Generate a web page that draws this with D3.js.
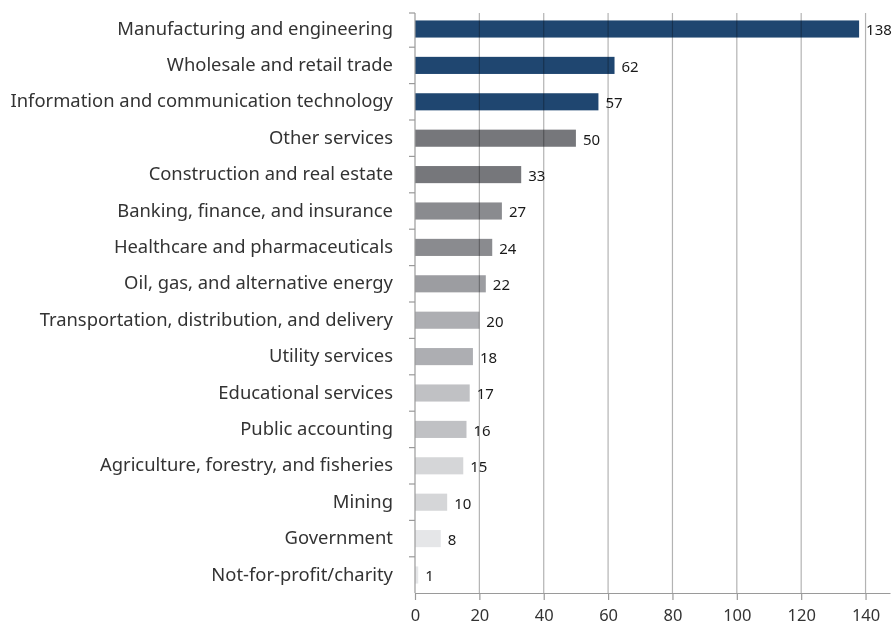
<!DOCTYPE html>
<html>
<head>
<meta charset="utf-8">
<script src="https://cdn.jsdelivr.net/npm/d3@7"></script>
<style>
  html, body { margin: 0; padding: 0; background: #fff; }
  svg { display: block; font-family: "Source Sans Pro", "Noto Sans", "Open Sans", sans-serif; }
</style>
</head>
<body>
<svg id="chart" width="893" height="629"></svg>
<script>
// Industry categories, top to bottom
const categories = [
  "Manufacturing and engineering",
  "Wholesale and retail trade",
  "Information and communication technology",
  "Other services",
  "Construction and real estate",
  "Banking, finance, and insurance",
  "Healthcare and pharmaceuticals",
  "Oil, gas, and alternative energy",
  "Transportation, distribution, and delivery",
  "Utility services",
  "Educational services",
  "Public accounting",
  "Agriculture, forestry, and fisheries",
  "Mining",
  "Government",
  "Not-for-profit/charity"
];
const counts = [138, 62, 57, 50, 33, 27, 24, 22, 20, 18, 17, 16, 15, 10, 8, 1];
const barColors = [
  "#1f4670", "#1f4670", "#1f4670",
  "#76777b", "#76777b",
  "#8a8b8f", "#8a8b8f",
  "#9c9da1",
  "#adaeb2", "#adaeb2",
  "#c0c1c4", "#c0c1c4",
  "#d5d6d8", "#d5d6d8",
  "#e5e6e8", "#e5e6e8"
];
const xTicks = [0, 20, 40, 60, 80, 100, 120, 140];

const svg = d3.select("#chart");
const margin = { top: 13, right: 3, bottom: 36, left: 415 };
const width = 893 - margin.left - margin.right;
const height = 629 - margin.top - margin.bottom;

const g = svg.append("g").attr("transform", `translate(${margin.left},${margin.top})`);

const x = d3.scaleLinear().domain([0, 147.6]).range([0, width]);
const y = d3.scaleBand().domain(categories).range([-2.2, height + 0.2])
  .paddingInner(0.53).paddingOuter(0.265);

// Bars
g.append("g")
  .selectAll("rect")
  .data(categories)
  .join("rect")
  .attr("x", x(0))
  .attr("y", d => y(d))
  .attr("width", (d, i) => x(counts[i]) - x(0))
  .attr("height", y.bandwidth())
  .attr("fill", (d, i) => barColors[i]);

// Vertical gridlines, multiplied over the bars
g.append("g")
  .style("mix-blend-mode", "multiply")
  .selectAll("line")
  .data(xTicks.filter(t => t > 0))
  .join("line")
  .attr("x1", d => x(d)).attr("x2", d => x(d))
  .attr("y1", 0).attr("y2", height)
  .attr("stroke", "#b3b3b3").attr("stroke-width", 1.2)
  .style("mix-blend-mode", "multiply");

// Value labels
g.append("g")
  .selectAll("text")
  .data(categories)
  .join("text")
  .attr("x", (d, i) => x(counts[i]) + 7)
  .attr("y", d => y(d) + y.bandwidth() / 2)
  .attr("dy", "0.42em")
  .attr("font-size", 15)
  .attr("fill", "#1a1a1a")
  .text((d, i) => counts[i]);

// Y axis
const bandStep = y.step();
const yAxis = g.append("g");
yAxis.append("line")
  .attr("x1", 0).attr("x2", 0).attr("y1", 0).attr("y2", height)
  .attr("stroke", "#9a9a9a").attr("stroke-width", 1.2);
yAxis.selectAll("line.tick")
  .data(categories)
  .join("line")
  .attr("class", "tick")
  .attr("x1", -6).attr("x2", 0)
  .attr("y1", d => Math.max(0, y(d) + y.bandwidth() / 2 - bandStep / 2))
  .attr("y2", d => Math.max(0, y(d) + y.bandwidth() / 2 - bandStep / 2))
  .attr("stroke", "#9a9a9a").attr("stroke-width", 1.2);
yAxis.selectAll("text")
  .data(categories)
  .join("text")
  .attr("x", -22)
  .attr("y", d => y(d) + y.bandwidth() / 2)
  .attr("dy", "0.3em")
  .attr("text-anchor", "end")
  .attr("font-size", 18.4)
  .attr("fill", "#333")
  .text(d => d);

// X axis
const xAxis = g.append("g").attr("transform", `translate(0,${height})`)
  .call(d3.axisBottom(x).tickValues(xTicks).tickSize(7).tickSizeOuter(0).tickPadding(9));
xAxis.select(".domain").attr("stroke", "#9a9a9a").attr("stroke-width", 1.2);
xAxis.selectAll(".tick line").attr("stroke", "#9a9a9a").attr("stroke-width", 1.2);
xAxis.selectAll(".tick text")
  .attr("font-size", 16.5)
  .attr("font-family", "\"Source Sans Pro\", \"Noto Sans\", sans-serif")
  .attr("fill", "#333");
</script>
</body>
</html>
